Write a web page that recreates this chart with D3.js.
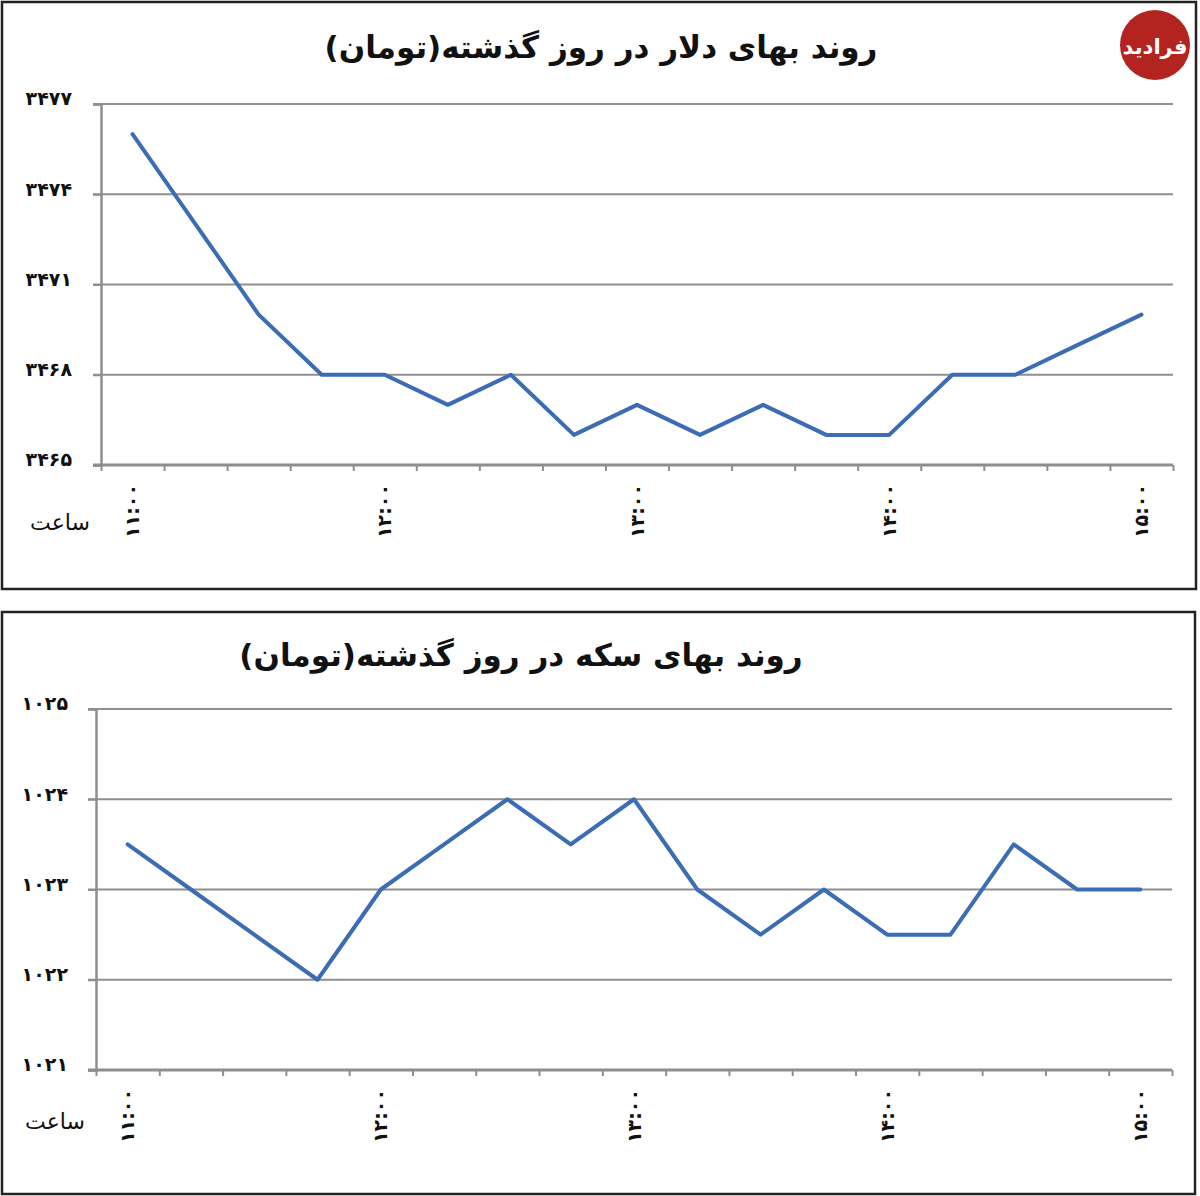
<!DOCTYPE html>
<html><head><meta charset="utf-8">
<script src="https://cdn.jsdelivr.net/npm/d3@7"></script>
<style>
html,body{margin:0;padding:0;background:#fff;}
svg{display:block;}
</style></head>
<body>
<svg id="chart" width="1200" height="1196"></svg>
<script>
// ---- data ----
const categories = ["11:00","11:15","11:30","11:45","12:00","12:15","12:30","12:45","13:00","13:15","13:30","13:45","14:00","14:15","14:30","14:45","15:00"];
const tickLabels = ["۱۱:۰۰","۱۲:۰۰","۱۳:۰۰","۱۴:۰۰","۱۵:۰۰"];
const tickLabelCategories = ["11:00","12:00","13:00","14:00","15:00"];
const dollarValues = [3476,3473,3470,3468,3468,3467,3468,3466,3467,3466,3467,3466,3466,3468,3468,3469,3470];
const dollarTicks = [3465,3468,3471,3474,3477];
const coinValues = [1023.5,1023,1022.5,1022,1023,1023.5,1024,1023.5,1024,1023,1022.5,1023,1022.5,1022.5,1023.5,1023,1023];
const coinTicks = [1021,1022,1023,1024,1025];
const dollarTitle = "روند بهای دلار در روز گذشته(تومان)";
const coinTitle = "روند بهای سکه در روز گذشته(تومان)";
const xAxisName = "ساعت";
const logoText = "فرادید";

const faDigits = "۰۱۲۳۴۵۶۷۸۹";
const toFa = s => String(s).replace(/[0-9]/g, d => faDigits[+d]);

const svg = d3.select("#chart");
const FONT = "'DejaVu Sans', sans-serif";
const LINE = "#3b6db5";
const GRID = "#8e8e8e";

function panel(cfg){
  const g = svg.append("g");
  // frame
  g.append("rect").attr("x",cfg.frame[0]).attr("y",cfg.frame[1])
    .attr("width",cfg.frame[2]).attr("height",cfg.frame[3])
    .attr("fill","#fff").attr("stroke","#222").attr("stroke-width",2.5);
  // title
  g.append("text").attr("x",cfg.titleX).attr("y",cfg.titleY)
    .attr("text-anchor","middle").attr("direction","rtl")
    .attr("font-family",FONT).attr("font-weight","bold").attr("font-size",31)
    .attr("fill","#111").text(cfg.title);

  const x = d3.scaleBand().domain(categories).range([cfg.x0,cfg.x1]).padding(0);
  const xi = d3.scaleLinear().domain([0,categories.length]).range([cfg.x0,cfg.x1]);
  const y = d3.scaleLinear().domain(d3.extent(cfg.ticks)).range([cfg.y1,cfg.y0]);

  // gridlines
  g.append("g").selectAll("line").data(cfg.ticks.filter(t=>t!==d3.min(cfg.ticks))).join("line")
    .attr("x1",cfg.x0-8).attr("x2",cfg.x1)
    .attr("y1",d=>y(d)).attr("y2",d=>y(d))
    .attr("stroke",GRID).attr("stroke-width",2);

  // y axis
  const ya = g.append("g").attr("transform",`translate(${cfg.x0},0)`)
    .call(d3.axisLeft(y).tickValues(cfg.ticks).tickSize(8).tickPadding(20).tickFormat(toFa));
  ya.select(".domain").attr("stroke",GRID).attr("stroke-width",2.5);
  ya.selectAll(".tick line").attr("stroke",GRID).attr("stroke-width",2);
  ya.selectAll(".tick text").attr("font-family",FONT).attr("font-weight","bold")
    .attr("font-size",19).attr("fill","#111").attr("letter-spacing",5)
    .attr("x",cfg.yLabelRight-cfg.x0).attr("dy","0.05em");

  // x axis
  const xa = g.append("g").attr("transform",`translate(0,${cfg.y1})`)
    .call(d3.axisBottom(xi).tickValues(d3.range(categories.length+1)).tickSize(6).tickSizeOuter(0).tickFormat(""));
  xa.select(".domain").attr("stroke",GRID).attr("stroke-width",3).attr("d",`M${cfg.x0-8},0H${cfg.x1}`);
  xa.selectAll(".tick line").attr("stroke",GRID).attr("stroke-width",2);

  // x labels (rotated)
  g.append("g").selectAll("text").data(tickLabelCategories).join("text")
    .attr("transform",(d)=>`translate(${x(d)+x.bandwidth()/2},${cfg.y1+19}) rotate(-90)`)
    .attr("text-anchor","end").attr("dy","0.35em").attr("direction","ltr")
    .attr("font-family",FONT).attr("font-weight","bold").attr("font-size",19)
    .attr("fill","#111").attr("letter-spacing",6)
    .text((d,i)=>tickLabels[i]);

  g.append("text").attr("x",cfg.nameX).attr("y",cfg.nameY).attr("text-anchor","middle")
    .attr("direction","rtl").attr("font-family",FONT).attr("font-size",22).attr("fill","#111")
    .text(xAxisName);

  // line
  const line = d3.line().x((d,i)=>x(categories[i])+x.bandwidth()/2).y(d=>y(d));
  g.append("path").datum(cfg.values).attr("d",line)
    .attr("fill","none").attr("stroke",LINE).attr("stroke-width",4)
    .attr("stroke-linejoin","round").attr("stroke-linecap","round");
}

panel({frame:[2,2,1194,587], title:dollarTitle, titleX:601, titleY:58,
  x0:101, x1:1173, y0:104, y1:465, ticks:dollarTicks, values:dollarValues,
  yLabelRight:72, nameX:60, nameY:530});

panel({frame:[2,612,1193,582], title:coinTitle, titleX:521, titleY:666,
  x0:96, x1:1172, y0:709, y1:1070, ticks:coinTicks, values:coinValues,
  yLabelRight:68, nameX:55, nameY:1129});

// logo
const logo = svg.append("g");
logo.append("circle").attr("cx",1155).attr("cy",45).attr("r",35).attr("fill","#b3231f");
logo.append("text").attr("x",1155).attr("y",54).attr("text-anchor","middle").attr("direction","rtl")
  .attr("font-family",FONT).attr("font-weight","bold").attr("font-size",21).attr("fill","#fff")
  .text(logoText);
</script>
</body></html>
